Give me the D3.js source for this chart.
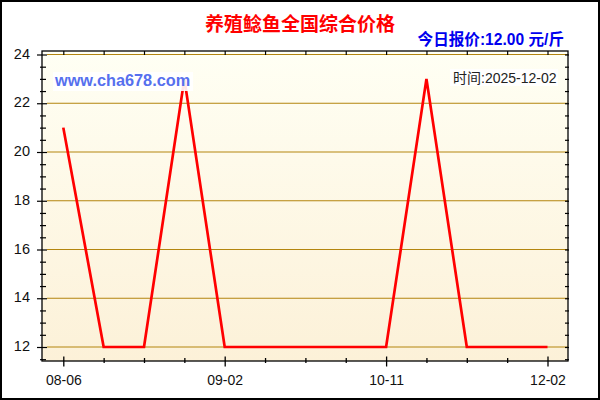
<!DOCTYPE html>
<html>
<head>
<meta charset="utf-8">
<script src="https://cdn.jsdelivr.net/npm/d3@7/dist/d3.min.js"></script>
<style>
html,body{margin:0;padding:0;background:#fff;}
svg{display:block;}
</style>
</head>
<body>
<svg id="chart" width="600" height="400"></svg>
<script>
// ---- data ----
const categories = ["08-06","08-13","08-20","08-27","09-02","09-12","09-22","10-01","10-11","10-21","10-31","11-20","12-02"];
const prices = [21,12,12,23,12,12,12,12,12,23,12,12,12];
const xTickLabels = ["08-06","09-02","10-11","12-02"];
const yTicks = [12,14,16,18,20,22,24];
const titleText = "养殖鲶鱼全国综合价格";
const priceText = "今日报价:12.00 元/斤";
const timeText = "时间:2025-12-02";
const watermarkText = "www.cha678.com";

// ---- layout ----
const frame = {left:42, right:568, top:51, bottom:361};
const svg = d3.select("#chart");
const latin = "'Liberation Sans', Arial, 'Noto Sans CJK SC', sans-serif";
const cjk = "'Noto Sans CJK SC', 'Liberation Sans', sans-serif";

const x = d3.scalePoint().domain(categories).range([63.3, 547.5]);
const y = d3.scaleLinear().domain([12, 24]).range([347, 54.5]);

// outer border
svg.append("rect").attr("x",1).attr("y",1).attr("width",598).attr("height",398)
  .attr("fill","#fff").attr("stroke","#000").attr("stroke-width",2);

// gradient background
const defs = svg.append("defs");
const grad = defs.append("linearGradient").attr("id","bg").attr("x1",0).attr("y1",0).attr("x2",0).attr("y2",1);
grad.append("stop").attr("offset","0%").attr("stop-color","#fffff4");
grad.append("stop").attr("offset","100%").attr("stop-color","#fcf1d8");
svg.append("rect").attr("x",frame.left).attr("y",frame.top)
  .attr("width",frame.right-frame.left).attr("height",frame.bottom-frame.top)
  .attr("fill","url(#bg)");

// gridlines
svg.append("g").selectAll("line").data(yTicks).join("line")
  .attr("x1",frame.left+5).attr("x2",frame.right)
  .attr("y1",d=>y(d)).attr("y2",d=>y(d))
  .attr("stroke","#b3850e").attr("stroke-width",1.1);

// price line
const line = d3.line().x((d,i)=>x(categories[i])).y(d=>y(d));
svg.append("path").datum(prices).attr("d",line)
  .attr("fill","none").attr("stroke","#ff0000").attr("stroke-width",2.7)
  .attr("stroke-linejoin","miter");

// watermark
svg.append("rect").attr("x",53).attr("y",72).attr("width",140).attr("height",19)
  .attr("fill","#ffffff").attr("fill-opacity",0.9);
svg.append("text").attr("x",55).attr("y",86).text(watermarkText)
  .attr("font-family",latin).attr("font-size","16.3px").attr("font-weight","bold")
  .attr("fill","#5670ee");

// time label
svg.append("rect").attr("x",450).attr("y",69).attr("width",108).attr("height",17)
  .attr("fill","#ffffff").attr("fill-opacity",0.9);
svg.append("text").attr("x",453).attr("y",83).text(timeText)
  .attr("font-family",latin).attr("font-size","14px").attr("fill","#222");

// frame
svg.append("rect").attr("x",frame.left).attr("y",frame.top)
  .attr("width",frame.right-frame.left).attr("height",frame.bottom-frame.top)
  .attr("fill","none").attr("stroke","#000").attr("stroke-width",1.3);

// bottom axis
const bottomAxis = d3.axisBottom(x).tickValues(categories).tickSize(0)
  .tickFormat(d => xTickLabels.includes(d) ? d : "");
const gb = svg.append("g").attr("transform",`translate(0,${frame.bottom})`).call(bottomAxis);
gb.select(".domain").remove();
gb.selectAll(".tick text").attr("y",24).attr("dy",null)
  .attr("font-family",latin).attr("font-size","14px").attr("fill","#111");
gb.selectAll(".tick line")
  .attr("y1",d=>xTickLabels.includes(d)?-4.5:-3)
  .attr("y2",d=>xTickLabels.includes(d)?5.5:2)
  .attr("stroke","#000").attr("stroke-width",1.3);

// top ticks
const topAxis = d3.axisTop(x).tickValues(categories).tickSizeInner(-4).tickSizeOuter(0).tickFormat("");
const gt = svg.append("g").attr("transform",`translate(0,${frame.top})`).call(topAxis);
gt.select(".domain").remove();
gt.selectAll(".tick line").attr("stroke","#000").attr("stroke-width",1.2);

// left axis
const minorY = d3.range(11.5, 24.01, 0.5);
const leftAxis = d3.axisLeft(y).tickValues(minorY).tickSize(0).tickPadding(12)
  .tickFormat(d => yTicks.includes(d) ? d3.format("d")(d) : "");
const gl = svg.append("g").attr("transform",`translate(${frame.left},0)`).call(leftAxis);
gl.select(".domain").remove();
gl.selectAll(".tick text").attr("dy","0.25em")
  .attr("font-family",latin).attr("font-size","14.5px").attr("fill","#111");
gl.selectAll(".tick line")
  .attr("x1",d=>yTicks.includes(d)?-5:-2)
  .attr("x2",d=>yTicks.includes(d)?5:4)
  .attr("stroke","#000").attr("stroke-width",1.2);

// right axis ticks
const rightAxis = d3.axisRight(y).tickValues(minorY).tickSizeInner(-3).tickSizeOuter(0).tickFormat("");
const gr = svg.append("g").attr("transform",`translate(${frame.right},0)`).call(rightAxis);
gr.select(".domain").remove();
gr.selectAll(".tick line").attr("x2",1).attr("x1",-3).attr("stroke","#000").attr("stroke-width",1.2);

// title
svg.append("text").attr("x",300).attr("y",31).attr("text-anchor","middle").text(titleText)
  .attr("font-family",cjk).attr("font-size","19px").attr("font-weight","bold").attr("fill","#ff0000");

// today's price
svg.append("text").attr("x",564).attr("y",45).attr("text-anchor","end").text(priceText)
  .attr("font-family",latin).attr("font-size","15.6px").attr("font-weight","bold").attr("fill","#0000ee");
</script>
</body>
</html>
